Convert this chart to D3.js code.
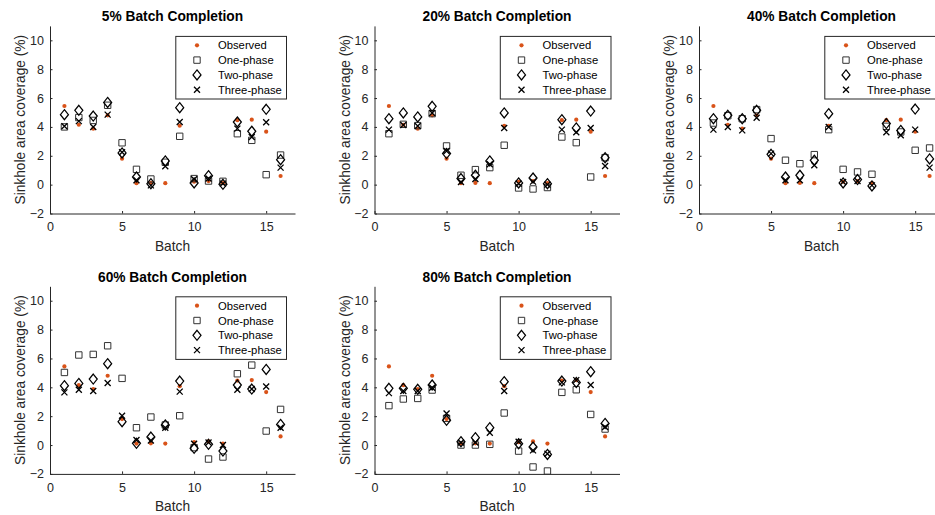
<!DOCTYPE html>
<html>
<head>
<meta charset="utf-8">
<script src="https://cdn.jsdelivr.net/npm/d3@7"></script>
<style>
  body { margin: 0; background: #fff; }
  svg { display: block; font-family: "Liberation Sans", Arial, Helvetica, sans-serif; }
</style>
</head>
<body>
<svg id="chart" width="935" height="515"></svg>
<script>
// Batch numbers on the x axis
const batches = [1, 2, 3, 4, 5, 6, 7, 8, 9, 10, 11, 12, 13, 14, 15, 16];

// Measured sinkhole area coverage (%) per batch
const observed = [5.45, 4.15, 3.88, 4.8, 1.8, 0.1, 0.12, 0.1, 4.08, 0.2, 0.25, 0.1, 4.47, 4.5, 3.67, 0.6];

// Model predictions at 5% batch completion
const onePhase5   = [4.0, 4.65, 4.45, 5.5, 2.9, 1.06, 0.39, 1.55, 3.35, 0.42, 0.25, 0.23, 3.53, 3.07, 0.69, 2.05];
const twoPhase5   = [4.85, 5.15, 4.75, 5.7, 2.2, 0.53, 0.07, 1.64, 5.33, 0.12, 0.62, 0.02, 4.34, 3.7, 5.22, 1.73];
const threePhase5 = [4.05, 4.4, 4.0, 4.85, 2.25, 0.3, -0.05, 1.27, 4.34, 0.37, 0.42, 0.07, 3.88, 3.3, 4.32, 1.18];

// Model predictions at 20% batch completion
const onePhase20   = [3.53, 4.18, 4.09, 4.92, 2.68, 0.65, 1.04, 1.18, 2.73, -0.23, -0.3, -0.2, 3.3, 2.91, 0.53, 1.87];
const twoPhase20   = [4.57, 4.97, 4.69, 5.43, 2.15, 0.42, 0.65, 1.64, 4.97, 0.12, 0.46, 0.07, 4.5, 3.93, 5.1, 1.87];
const threePhase20 = [3.81, 4.13, 4.06, 4.97, 2.33, 0.18, 0.39, 1.41, 3.93, 0.07, 0.21, 0.0, 3.81, 3.63, 3.93, 1.29];

// Model predictions at 40% batch completion
const onePhase40   = [4.27, 4.78, 4.57, 5.2, 3.19, 1.69, 1.45, 2.08, 3.81, 1.06, 0.88, 0.72, 4.04, 3.65, 2.38, 2.54];
const twoPhase40   = [4.57, 4.8, 4.57, 5.15, 2.1, 0.53, 0.65, 1.69, 4.92, 0.12, 0.35, -0.09, 4.23, 3.76, 5.24, 1.78];
const threePhase40 = [3.81, 4.0, 3.76, 4.64, 2.15, 0.3, 0.3, 1.34, 4.0, 0.18, 0.25, -0.05, 3.63, 3.42, 3.81, 1.18];

// Model predictions at 60% batch completion
const onePhase60   = [5.03, 6.24, 6.28, 6.88, 4.62, 1.2, 1.94, 1.39, 2.03, -0.18, -0.97, -0.83, 4.94, 5.54, 0.97, 2.47];
const twoPhase60   = [4.11, 4.27, 4.57, 5.64, 1.62, 0.12, 0.55, 1.39, 4.43, -0.23, 0.05, -0.42, 4.16, 3.88, 5.24, 1.43];
const threePhase60 = [3.65, 3.83, 3.74, 4.3, 2.03, 0.35, 0.32, 1.2, 3.7, 0.09, 0.18, 0.0, 3.83, 3.88, 4.06, 1.2];

// Model predictions at 80% batch completion
const onePhase80   = [2.73, 3.19, 3.23, 3.81, 1.85, 0.0, 0.0, 0.05, 2.22, -0.42, -1.52, -1.8, 3.65, 3.83, 2.12, 1.11];
const twoPhase80   = [3.93, 3.93, 3.86, 4.16, 1.71, 0.23, 0.51, 1.2, 4.39, 0.09, -0.14, -0.65, 4.43, 4.34, 5.08, 1.5];
const threePhase80 = [3.6, 3.74, 3.74, 3.97, 2.19, 0.18, 0.18, 0.85, 3.74, 0.23, -0.37, -0.6, 4.34, 4.5, 4.16, 1.25];

// Panel titles, axis ticks and legend entries
const panelTitles = ["5% Batch Completion", "20% Batch Completion", "40% Batch Completion",
                     "60% Batch Completion", "80% Batch Completion"];
const xTicks = [0, 5, 10, 15];
const yTicks = [-2, 0, 2, 4, 6, 8, 10];
const seriesNames = ["Observed", "One-phase", "Two-phase", "Three-phase"];

const onePhaseSets   = [onePhase5, onePhase20, onePhase40, onePhase60, onePhase80];
const twoPhaseSets   = [twoPhase5, twoPhase20, twoPhase40, twoPhase60, twoPhase80];
const threePhaseSets = [threePhase5, threePhase20, threePhase40, threePhase60, threePhase80];

// Subplot grid geometry
const colX = [50, 374.5, 699];
const rowY = [25.9, 286.3];
const W = 245, H = 187.6;
const axisColor = "#262626";
const orange = "#D95319";

const svg = d3.select("#chart");

// Marker shapes
const markerPath = {
  one: "M-3.2,-3.2H3.2V3.2H-3.2Z",
  two: "M0,-5L4,0L0,5L-4,0Z",
  three: "M-3,-3L3,3M3,-3L-3,3"
};

function drawMarkers(g, cls, data, x, y, kind) {
  if (kind === "obs") {
    g.selectAll("circle." + cls).data(data).join("circle")
      .attr("class", cls)
      .attr("cx", (d, i) => x(batches[i]))
      .attr("cy", d => y(d))
      .attr("r", 2.1)
      .attr("fill", orange);
  } else {
    g.selectAll("path." + cls).data(data).join("path")
      .attr("class", cls)
      .attr("transform", (d, i) => `translate(${x(batches[i])},${y(d)})`)
      .attr("d", markerPath[kind])
      .attr("fill", "none")
      .attr("stroke", kind === "one" ? "#333" : "#000")
      .attr("stroke-width", kind === "one" ? 1 : (kind === "two" ? 1.25 : 1.3));
  }
}

panelTitles.forEach((title, p) => {
  const x0 = colX[p % 3], y0 = rowY[Math.floor(p / 3)];
  const x = d3.scaleLinear().domain([0, 17]).range([x0, x0 + W]);
  const y = d3.scaleLinear().domain([-2, 11]).range([y0 + H, y0]);
  const g = svg.append("g");

  // X axis (ticks point inward)
  const xAxis = g.append("g")
    .attr("transform", `translate(0,${y0 + H})`)
    .call(d3.axisBottom(x).tickValues(xTicks).tickSizeInner(-2.5).tickSizeOuter(0).tickPadding(9));
  xAxis.select(".domain").attr("stroke", axisColor);
  xAxis.selectAll(".tick line").attr("stroke", axisColor);
  xAxis.selectAll(".tick text").attr("fill", axisColor).attr("font-size", 12.5)
    .attr("font-family", "Liberation Sans, Arial, sans-serif");

  // Y axis (ticks point inward)
  const yAxis = g.append("g")
    .attr("transform", `translate(${x0},0)`)
    .call(d3.axisLeft(y).tickValues(yTicks).tickSizeInner(-2.5).tickSizeOuter(0).tickPadding(6));
  yAxis.select(".domain").attr("stroke", axisColor);
  yAxis.selectAll(".tick line").attr("stroke", axisColor);
  yAxis.selectAll(".tick text").attr("fill", axisColor).attr("font-size", 12.5)
    .attr("font-family", "Liberation Sans, Arial, sans-serif");

  // Title and axis labels
  g.append("text")
    .attr("x", x0 + W / 2).attr("y", y0 - 4.5)
    .attr("text-anchor", "middle").attr("font-size", 13.75).attr("font-weight", "bold")
    .attr("fill", "#000").text(title);
  g.append("text")
    .attr("x", x0 + W / 2).attr("y", y0 + H + 37)
    .attr("text-anchor", "middle").attr("font-size", 13.75).attr("fill", axisColor)
    .text("Batch");
  g.append("text")
    .attr("transform", `translate(${x0 - 25},${y0 + H / 2}) rotate(-90)`)
    .attr("text-anchor", "middle").attr("font-size", 13.75).attr("fill", axisColor)
    .text("Sinkhole area coverage (%)");

  // Data markers, drawn in legend order
  const marks = g.append("g");
  drawMarkers(marks, "obs", observed, x, y, "obs");
  drawMarkers(marks, "one", onePhaseSets[p], x, y, "one");
  drawMarkers(marks, "two", twoPhaseSets[p], x, y, "two");
  drawMarkers(marks, "three", threePhaseSets[p], x, y, "three");

  // Legend box in the upper right of each panel
  const lw = 110.7, lh = 62.6;
  const lx = x0 + W - 9 - lw, ly = y0 + 10;
  const leg = g.append("g").attr("transform", `translate(${lx},${ly})`);
  leg.append("rect").attr("x", 0.5).attr("y", 0.5).attr("width", lw).attr("height", lh)
    .attr("fill", "#fff").attr("stroke", axisColor).attr("stroke-width", 1);
  const kinds = ["obs", "one", "two", "three"];
  seriesNames.forEach((name, i) => {
    const ry = 9.4 + i * 14.8;
    const m = leg.append("g").attr("transform", `translate(21.7,${ry})`);
    if (kinds[i] === "obs") {
      m.append("circle").attr("r", 2.1).attr("fill", orange);
    } else {
      m.append("path").attr("d", markerPath[kinds[i]]).attr("fill", "none")
        .attr("stroke", kinds[i] === "one" ? "#333" : "#000")
        .attr("stroke-width", kinds[i] === "one" ? 1 : (kinds[i] === "two" ? 1.25 : 1.3));
    }
    leg.append("text").attr("x", 42.7).attr("y", ry).attr("dy", "0.36em")
      .attr("font-size", 11.25).attr("fill", "#000").text(name);
  });
});
</script>
</body>
</html>
